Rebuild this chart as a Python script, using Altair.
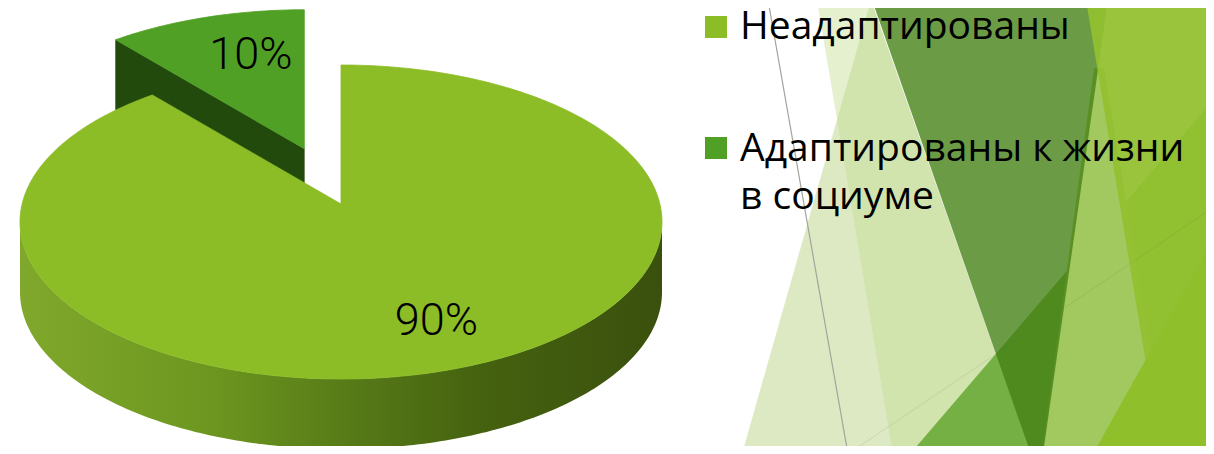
import math
import altair as alt
import pandas as pd

# ---------------- data ----------------
categories = ["Неадаптированы", "Адаптированы к жизни в социуме"]
shares = [90, 10]
pct_labels = ["90%", "10%"]
legend_text = ["Неадаптированы", "Адаптированы к жизни\nв социуме"]
exploded = [False, True]

# ---------------- styles ----------------
slice_colors = ["#8cbc26", "#50a026"]      # top faces / legend
face_colors = ["#5a7e1c", "#234a0d"]       # cut (radial) faces
WALL_STOPS = [("#80a82c", 0.0), ("#6c961f", 0.3), ("#587c18", 0.5),
              ("#45620f", 0.72), ("#3a500d", 1.0)]

# ---------------- layout (frame = reference pixels) ----------------
PAGE_MARGIN = 8
W, H = 1198, 438
CX, CY, RX, RY = 341, 222, 321, 157
DEPTH = 70
LIFT = 18          # perspective: apex drawn a little above the ellipse centre
EXPLODE = 0.37
LABEL_R = 0.66
LABEL_NUDGE = [(30, 0), (12, -13)]
LEGEND_SQ_Y = [27, 148]
LEGEND_TXT_Y = [39, 161]
LEGEND_SQ_X = 716
LEGEND_TXT_X = 740

# decorative background facets of the slide theme: (points, colour, opacity)
THEME_FACETS = [
    ([(871, 0), (742, 454), (1031, 454)], "#b5cf7d", 0.46),
    ([(817, 0), (871, 0), (1031, 454), (893, 454)], "#c5dd94", 0.45),
    ([(1214, 99), (910, 454), (1214, 454)], "#74b044", 1.0),
    ([(1094, 68), (1104, 68), (1168, 454), (1042, 454)], "#a2c960", 1.0),
    ([(872, 0), (1108, 0), (1043, 454), (1031, 454)], "#448014", 0.79),
    ([(1086, 0), (1214, 0), (1214, 454), (1161, 454)], "#93c030", 0.94),
    ([(1214, 237), (1093, 454), (1214, 454)], "#8fc02c", 1.0),
]
THEME_LINES = [
    ([(768, 0), (848, 454)], "#a2a59c", 1.2, 1.0),
    ([(848, 454), (1214, 207)], "#5d6b48", 1.0, 0.15),
]

xs = alt.Scale(domain=[PAGE_MARGIN, PAGE_MARGIN + W], nice=False, zero=False)
ys = alt.Scale(domain=[PAGE_MARGIN, PAGE_MARGIN + H], nice=False, zero=False, reverse=True)
X = alt.X("x:Q", scale=xs, axis=None)
Y = alt.Y("y:Q", scale=ys, axis=None)
ORD = alt.Order("i:Q")
cat_scale = alt.Scale(domain=categories, range=slice_colors)


def ell(t, cx, cy, dz=0.0):
    r = math.radians(t)
    return (cx + RX * math.sin(r), cy - RY * math.cos(r) + dz)


def arc(a0, a1, cx, cy, dz=0.0, step=1.0):
    n = max(2, int(math.ceil(abs(a1 - a0) / step)) + 1)
    return [ell(a0 + (a1 - a0) * k / (n - 1), cx, cy, dz) for k in range(n)]


def poly_df(points, **extra):
    rows = [dict(i=k, x=p[0], y=p[1], **extra) for k, p in enumerate(points)]
    rows.append(dict(i=len(points), x=points[0][0], y=points[0][1], **extra))
    return pd.DataFrame(rows)


layers = []

# background facets
for pts, col, op in THEME_FACETS:
    layers.append(
        alt.Chart(poly_df(pts)).mark_line(fill=col, fillOpacity=op, strokeWidth=0, clip=True)
        .encode(x=X, y=Y, order=ORD)
    )
for pts, col, wdt, op in THEME_LINES:
    df = pd.DataFrame([dict(i=k, x=p[0], y=p[1]) for k, p in enumerate(pts)])
    layers.append(
        alt.Chart(df).mark_line(stroke=col, strokeWidth=wdt, strokeOpacity=op, clip=True)
        .encode(x=X, y=Y, order=ORD)
    )

# pie geometry built from the shares
total = float(sum(shares))
geo = []
start = 0.0
for idx, (cat, v) in enumerate(zip(categories, shares)):
    a0 = start / total * 360.0
    a1 = (start + v) / total * 360.0
    start += v
    mid = (a0 + a1) / 2.0
    ox = oy = 0.0
    if exploded[idx]:
        ox = EXPLODE * RX * math.sin(math.radians(mid))
        oy = -EXPLODE * RY * math.cos(math.radians(mid))
    geo.append((idx, cat, a0, a1, mid, CX + ox, CY + oy))

draw_order = [g for g in geo if exploded[g[0]]] + [g for g in geo if not exploded[g[0]]]

for idx, cat, a0, a1, mid, cx, cy in draw_order:
    apex = (cx, cy - LIFT)
    apex_b = (cx, cy - LIFT + DEPTH)
    # outer wall (front half only)
    w0, w1 = max(a0, 90.0), min(a1, 270.0)
    if w1 > w0:
        pts = arc(w0, w1, cx, cy) + arc(w1, w0, cx, cy, DEPTH)
        grad = alt.Gradient(
            gradient="linear", x1=0, x2=1, y1=0, y2=0,
            stops=[alt.GradientStop(color=c, offset=o) for c, o in WALL_STOPS],
        )
        layers.append(
            alt.Chart(poly_df(pts, category=cat)).mark_line(fill=grad, strokeWidth=0)
            .encode(x=X, y=Y, order=ORD)
        )
    # radial cut faces that look toward the viewer
    for a, visible in ((a0, math.sin(math.radians(a0)) < -1e-9),
                       (a1, math.sin(math.radians(a1)) > 1e-9)):
        if visible:
            p = ell(a, cx, cy)
            pts = [apex, p, (p[0], p[1] + DEPTH), apex_b]
            layers.append(
                alt.Chart(poly_df(pts, category=cat))
                .mark_line(fill=face_colors[idx], stroke=face_colors[idx], strokeWidth=0.6)
                .encode(x=X, y=Y, order=ORD)
            )
    # top face
    pts = [apex] + arc(a0, a1, cx, cy)
    layers.append(
        alt.Chart(poly_df(pts, category=cat)).mark_line(strokeWidth=0.8)
        .encode(
            x=X, y=Y, order=ORD,
            fill=alt.Fill("category:N", scale=cat_scale, legend=None),
            stroke=alt.Stroke("category:N", scale=cat_scale, legend=None),
        )
    )

# percentage labels
for idx, cat, a0, a1, mid, cx, cy in geo:
    r = math.radians(mid)
    lx = cx + LABEL_R * RX * math.sin(r)
    ly = cy - LABEL_R * RY * math.cos(r)
    df = pd.DataFrame([dict(x=lx, y=ly, label=pct_labels[idx])])
    layers.append(
        alt.Chart(df).mark_text(
            font="Roboto", fontWeight=300, fontSize=45, color="#000000",
            align="center", baseline="middle",
            dx=LABEL_NUDGE[idx][0], dy=LABEL_NUDGE[idx][1],
        ).encode(x=X, y=Y, text="label:N")
    )

# legend
for k, cat in enumerate(categories):
    df = pd.DataFrame([dict(category=cat, text=legend_text[k])])
    layers.append(
        alt.Chart(df).mark_square(size=484, opacity=1).encode(
            x=alt.value(LEGEND_SQ_X - PAGE_MARGIN),
            y=alt.value(LEGEND_SQ_Y[k] - PAGE_MARGIN),
            fill=alt.Fill("category:N", scale=cat_scale, legend=None),
        )
    )
    layers.append(
        alt.Chart(df).mark_text(
            font="Open Sans", fontSize=39, color="#000000", align="left",
            baseline="alphabetic", lineBreak="\n", lineHeight=48,
        ).encode(
            x=alt.value(LEGEND_TXT_X - PAGE_MARGIN),
            y=alt.value(LEGEND_TXT_Y[k] - PAGE_MARGIN),
            text="text:N",
        )
    )

chart = (
    alt.layer(*layers)
    .properties(width=W, height=H, padding=0, autosize=alt.AutoSizeParams(type="none"),
                background="white")
    .configure_view(stroke=None)
)

chart.save("out.html", embed_options={"renderer": "svg", "actions": False})
